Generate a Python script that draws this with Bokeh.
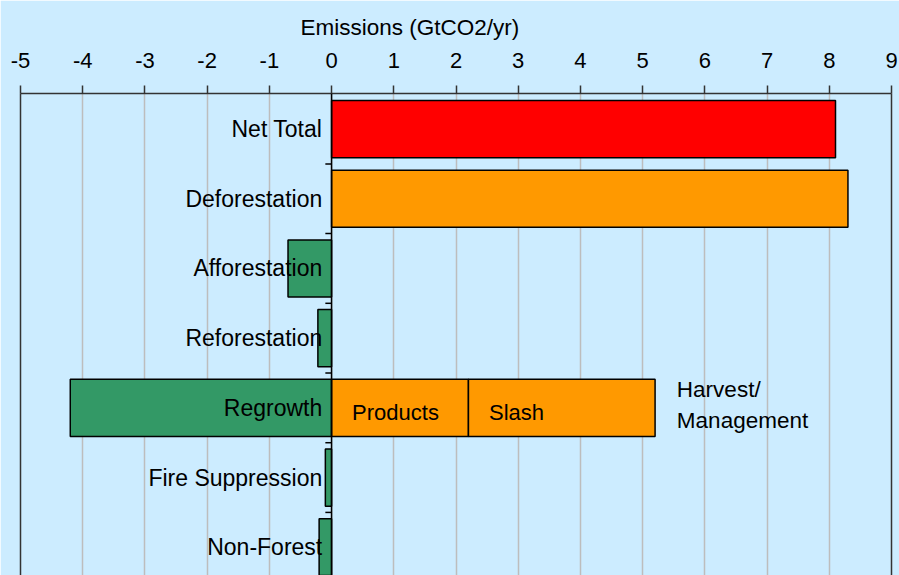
from bokeh.plotting import figure
from bokeh.models import Range1d, FixedTicker, LinearAxis, Span, ColumnDataSource
from bokeh.core.properties import value
from bokeh.embed import file_html
from bokeh.resources import INLINE

# ---- data ----
categories = ["Net Total", "Deforestation", "Afforestation", "Reforestation",
              "Regrowth", "Fire Suppression", "Non-Forest"]
values = [8.1, 8.3, -0.7, -0.22, -4.2, -0.1, -0.2]
harvest_parts = ["Products", "Slash"]
harvest_values = [2.2, 3.0]
harvest_label = "Harvest/\nManagement"
harvest_row = "Regrowth"
x_ticks = list(range(-5, 10))
x_tick_labels = [str(t) for t in x_ticks]
axis_title = "Emissions (GtCO2/yr)"

# ---- style ----
BG = "#CCECFF"
RED = "#FF0000"
ORANGE = "#FF9900"
GREEN = "#339966"
FONT = value("Liberation Sans")
bar_colors = [RED, ORANGE] + [GREEN] * 5

ypos = list(range(len(categories)))
y_top = -0.51

p = figure(width=899, height=575,
           x_range=Range1d(x_ticks[0], x_ticks[-1]),
           y_range=Range1d(6.405, y_top),
           x_axis_location="above", y_axis_location=None,
           output_backend="svg", toolbar_location=None,
           min_border_left=20, min_border_right=8,
           min_border_top=93, min_border_bottom=0)
p.background_fill_color = BG
p.border_fill_color = BG
p.outline_line_color = None

# axis title drawn as the plot title (off-centre, as in the original)
p.title.text = axis_title
p.title.align = "left"
p.title.offset = 280
p.title.text_font = "Liberation Sans"
p.title.text_font_size = "22.5px"
p.title.text_font_style = "normal"
p.title.text_color = "black"
p.title.standoff = 20

ax = p.xaxis[0]
ax.ticker = FixedTicker(ticks=x_ticks)
ax.major_label_overrides = dict(zip(x_ticks, x_tick_labels))
ax.major_label_text_font = "Liberation Sans"
ax.major_label_text_font_size = "22px"
ax.major_label_text_color = "black"
ax.major_label_standoff = 18
ax.major_tick_in = 0
ax.major_tick_out = 8
ax.major_tick_line_color = "#333333"
ax.major_tick_line_width = 1.5
ax.minor_tick_line_color = None
ax.axis_line_color = "#333333"
ax.axis_line_width = 1.5

p.xgrid.ticker = FixedTicker(ticks=x_ticks)
p.xgrid.grid_line_color = "#BDBDBD"
p.xgrid.grid_line_width = 1.5
p.ygrid.visible = False

for loc in ("left", "right"):
    side = LinearAxis(ticker=FixedTicker(ticks=[]), axis_line_color="#333333",
                      axis_line_width=1.5, major_tick_line_color=None,
                      minor_tick_line_color=None, major_label_text_font_size="0px",
                      major_tick_out=0, major_tick_in=0, major_label_standoff=0)
    p.add_layout(side, loc)

# main bars
src = ColumnDataSource(dict(
    y=ypos,
    left=[min(0, v) for v in values],
    right=[max(0, v) for v in values],
    color=bar_colors,
))
p.hbar(y="y", left="left", right="right", height=0.82, source=src,
       fill_color="color", line_color="black", line_width=1.5)

# harvest/management stacked bars
hrow = categories.index(harvest_row)
lefts, rights = [], []
acc = 0.0
for v in harvest_values:
    lefts.append(acc)
    acc += v
    rights.append(acc)
p.hbar(y=[hrow] * len(harvest_values), left=lefts, right=rights, height=0.82,
       fill_color=ORANGE, line_color="black", line_width=1.5)

# zero line and boundary ticks
p.add_layout(Span(location=0, dimension="height", line_color="black", line_width=1.5))
bounds = [i + 0.5 for i in ypos[:-1]]
p.segment(x0=[-0.1] * len(bounds), x1=[0] * len(bounds), y0=bounds, y1=bounds,
          line_color="black", line_width=1.5)

# category labels
p.text(x=[-0.15] * len(categories), y=ypos, text=categories,
       text_align="right", text_baseline="middle",
       text_font=FONT, text_font_size=value("23px"), text_color="black")

# part labels
p.text(x=[l + 0.33 for l in lefts], y=[hrow + 0.07] * len(lefts), text=harvest_parts,
       text_align="left", text_baseline="middle",
       text_font=FONT, text_font_size=value("22px"), text_color="black")

p.text(x=[rights[-1] + 0.35], y=[hrow - 0.04], text=[harvest_label],
       text_align="left", text_baseline="middle", text_line_height=1.25,
       text_font=FONT, text_font_size=value("22.5px"), text_color="black")

open("out.html", "w").write(file_html(p, INLINE))
